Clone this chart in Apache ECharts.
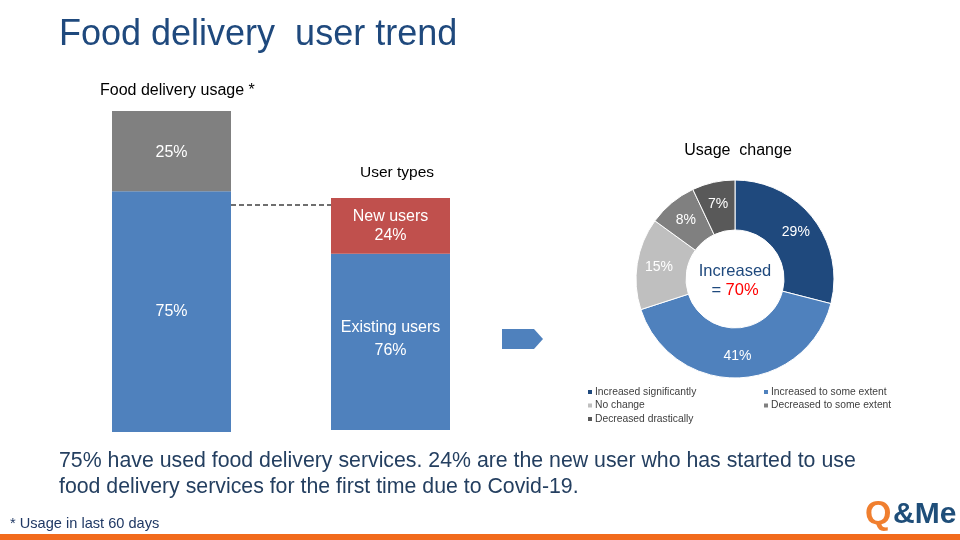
<!DOCTYPE html>
<html>
<head>
<meta charset="utf-8">
<script src="https://cdn.jsdelivr.net/npm/echarts@6/dist/echarts.min.js"></script>
<style>
html,body{margin:0;padding:0;background:#fff;}
#chart{width:960px;height:540px;}
</style>
</head>
<body>
<div id="chart"></div>
<script>
// ---- Data ----
const usageCategory = ['Food delivery usage'];
const usedShare = [75];
const notUsedShare = [25];

const userTypeCategory = ['User types'];
const existingUsers = [76];
const newUsers = [24];

const changeLabels = ['Increased significantly', 'Increased to some extent', 'No change', 'Decreased to some extent', 'Decreased drastically'];
const changeValues = [29, 41, 15, 8, 7];
const changeColors = ['#1f497d', '#4f81bd', '#bfbfbf', '#808080', '#595959'];

const FONT = '"Liberation Sans", Arial, sans-serif';

const chart = echarts.init(document.getElementById('chart'), null, {renderer: 'canvas'});

const pieData = changeLabels.map((n, i) => ({name: n, value: changeValues[i], itemStyle: {color: changeColors[i]}}));

const legendText = {fontFamily: FONT, fontSize: 10.3, color: '#404040', lineHeight: 10, padding: [0, 0, 0, -3]};

const option = {
  backgroundColor: '#ffffff',
  animation: false,
  textStyle: {fontFamily: FONT},
  grid: [
    {left: 112, width: 119, top: 111, height: 321},
    {left: 331, width: 119, top: 198, height: 232}
  ],
  xAxis: [
    {gridIndex: 0, type: 'category', data: usageCategory, show: false},
    {gridIndex: 1, type: 'category', data: userTypeCategory, show: false}
  ],
  yAxis: [
    {gridIndex: 0, type: 'value', min: 0, max: 100, show: false},
    {gridIndex: 1, type: 'value', min: 0, max: 100, show: false}
  ],
  legend: [
    {
      orient: 'vertical', left: 586, top: 387, padding: 0, itemGap: 3.5,
      itemWidth: 6, itemHeight: 6, icon: 'rect',
      data: [changeLabels[0], changeLabels[2], changeLabels[4]],
      textStyle: legendText
    },
    {
      orient: 'vertical', left: 762, top: 387, padding: 0, itemGap: 3.5,
      itemWidth: 6, itemHeight: 6, icon: 'rect',
      data: [changeLabels[1], changeLabels[3]],
      textStyle: legendText
    }
  ],
  series: [
    {
      name: 'Used', type: 'bar', stack: 'usage', xAxisIndex: 0, yAxisIndex: 0,
      barWidth: '100%', data: usedShare, itemStyle: {color: '#4f81bd'},
      label: {show: true, position: 'inside', formatter: '{c}%', color: '#fff', fontSize: 16, fontFamily: FONT}
    },
    {
      name: 'Not used', type: 'bar', stack: 'usage', xAxisIndex: 0, yAxisIndex: 0,
      barWidth: '100%', data: notUsedShare, itemStyle: {color: '#808080'},
      label: {show: true, position: 'inside', offset: [0, 1], formatter: '{c}%', color: '#fff', fontSize: 16, fontFamily: FONT}
    },
    {
      name: 'Existing users', type: 'bar', stack: 'types', xAxisIndex: 1, yAxisIndex: 1,
      barWidth: '100%', data: existingUsers, itemStyle: {color: '#4f81bd'},
      label: {show: true, position: 'inside', offset: [0, -3], formatter: '{a}\n{c}%', color: '#fff', fontSize: 16, lineHeight: 23, fontFamily: FONT}
    },
    {
      name: 'New users', type: 'bar', stack: 'types', xAxisIndex: 1, yAxisIndex: 1,
      barWidth: '100%', data: newUsers, itemStyle: {color: '#c0504d'},
      label: {show: true, position: 'inside', formatter: '{a}\n{c}%', color: '#fff', fontSize: 16, lineHeight: 19, fontFamily: FONT}
    },
    {
      name: 'Usage change', type: 'pie', center: [735, 279], radius: [49, 99],
      startAngle: 90, clockwise: true, data: pieData,
      itemStyle: {borderColor: '#fff', borderWidth: 1},
      label: {show: true, position: 'inside', formatter: '{c}%', color: '#fff', fontSize: 14, fontFamily: FONT},
      labelLine: {show: false},
      emphasis: {disabled: true}
    }
  ],
  graphic: [
    {type: 'text', left: 59, top: 17, style: {text: 'Food delivery  user trend', fill: '#1f497d', font: '36px ' + FONT}},
    {type: 'text', x: 100, y: 91, style: {text: 'Food delivery usage *', fill: '#000', font: '16px ' + FONT, textVerticalAlign: 'middle'}},
    {type: 'text', x: 397, y: 173, style: {text: 'User types', fill: '#000', font: '15.5px ' + FONT, textAlign: 'center', textVerticalAlign: 'middle'}},
    {type: 'text', x: 738, y: 151, style: {text: 'Usage  change', fill: '#000', font: '16px ' + FONT, textAlign: 'center', textVerticalAlign: 'middle'}},
    {type: 'text', x: 735, y: 281, style: {
      text: '{a|Increased}\n{a|= }{b|70%}', textAlign: 'center', textVerticalAlign: 'middle',
      rich: {a: {fill: '#1f497d', fontSize: 16.5, fontFamily: FONT, lineHeight: 19}, b: {fill: '#ff0000', fontSize: 16.5, fontFamily: FONT, lineHeight: 19}}
    }},
    {type: 'line', shape: {x1: 231, y1: 205, x2: 331, y2: 205}, style: {stroke: '#404040', lineWidth: 1.5, lineDash: [5, 3]}},
    {type: 'polygon', shape: {points: [[502, 329], [534, 329], [543, 339], [534, 349], [502, 349]]}, style: {fill: '#4f81bd'}},
    {type: 'text', x: 59, y: 461, style: {text: '75% have used food delivery services. 24% are the new user who has started to use', fill: '#243f60', font: '21.3px ' + FONT, textVerticalAlign: 'middle'}},
    {type: 'text', x: 59, y: 487, style: {text: 'food delivery services for the first time due to Covid-19.', fill: '#243f60', font: '21.3px ' + FONT, textVerticalAlign: 'middle'}},
    {type: 'text', x: 10, y: 524, style: {text: '* Usage in last 60 days', fill: '#1f3864', font: '14.6px ' + FONT, textVerticalAlign: 'middle'}},
    {type: 'rect', shape: {x: 0, y: 534, width: 960, height: 6}, style: {fill: '#f26b1d'}},
    {type: 'text', x: 865, y: 515, style: {text: 'Q', fill: '#f07f2f', font: 'bold 34px ' + FONT, textVerticalAlign: 'middle'}},
    {type: 'text', x: 893, y: 515, style: {text: '&Me', fill: '#1f4e79', font: 'bold 30px ' + FONT, textVerticalAlign: 'middle'}}
  ]
};
chart.setOption(option);
</script>
</body>
</html>
